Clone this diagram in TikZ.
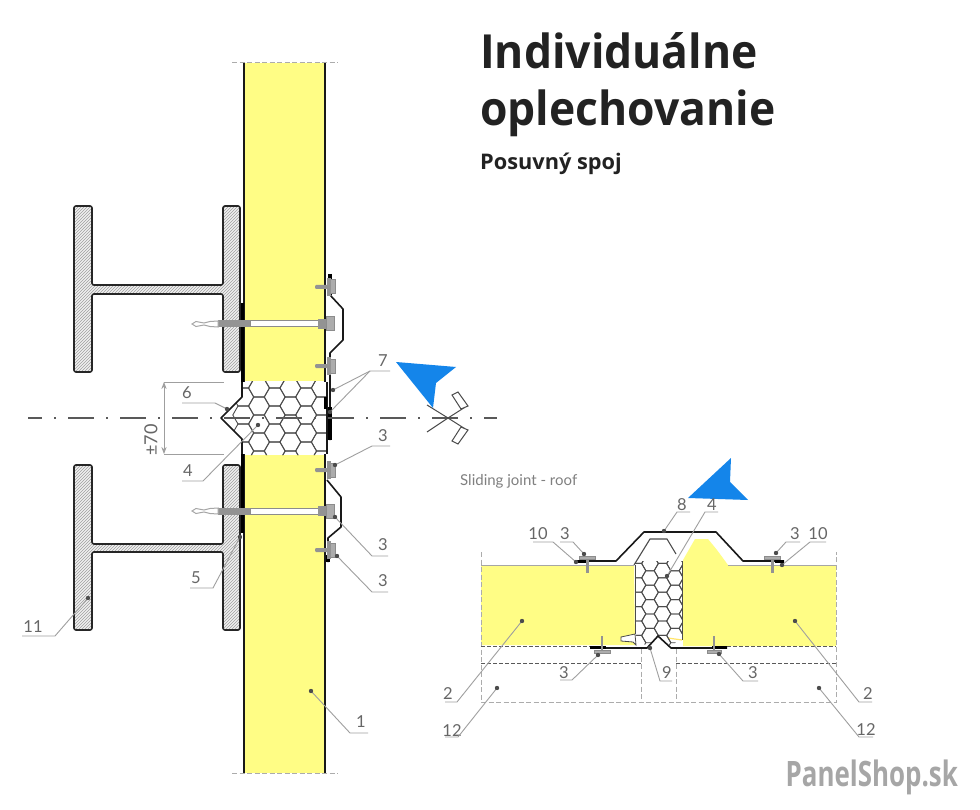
\documentclass[tikz,border=0pt]{standalone}
\usepackage{fontspec}
\setmainfont{Open Sans}
\newfontfamily\labelfont{Lato}
\usetikzlibrary{positioning,calc,patterns,arrows.meta}
\definecolor{panelyellow}{HTML}{FFFD85}
\definecolor{arrowblue}{HTML}{1485EA}
\definecolor{titleink}{HTML}{222222}
\newcommand{\hexcell}[3]{\draw[hexline] (#1,#2) ++(0:#3) -- ++(120:#3) -- ++(180:#3) -- ++(240:#3) -- ++(300:#3) -- ++(0:#3) -- cycle;}
\begin{document}
\begin{tikzpicture}[
	x=1pt, y=-1pt,
	foam/.style={fill=panelyellow},
	sheet/.style={draw=black!90, line width=1.6pt, line join=round},
	bar/.style={draw=black, line width=3.6pt},
	hexline/.style={draw=black!70, line width=.9pt},
	ibeam/.style={draw=black!85, line width=1.6pt, rounded corners=2pt, preaction={fill=gray!12}, pattern=north east lines, pattern color=gray!75},
	boltpart/.style={fill=gray!85},
	boltnut/.style={draw=gray!90, line width=1pt, fill=gray!65},
	cutline/.style={draw=gray!65, line width=1pt, dash pattern=on 5pt off 2.5pt},
	hiddenline/.style={draw=black!65, line width=.9pt, dash pattern=on 4pt off 2pt},
	axisline/.style={draw=black!65, line width=1.1pt, dash pattern=on 26pt off 12pt on 2pt off 12pt, dash phase=12pt},
	leader/.style={draw=gray!75, line width=.9pt},
	leaderdot/.style={fill=gray!60!black},
	lbl/.style={font=\labelfont\fontsize{16.5}{16.5}\selectfont, text=black!60, inner sep=0pt},
	title/.style={font=\fontsize{47}{47}\selectfont\bfseries, text=titleink, anchor=base west, inner sep=0pt, xscale=.945, transform shape},
	pointer/.style={fill=arrowblue}
]
\useasboundingbox (0,0) rectangle (980,810);
\fill[white] (0,0) rectangle (980,810);

% headings
\node[title] (headline1) at (480,69) {Individuálne};
\node[title] (headline2) at (480,126) {oplechovanie};
\node[title, xscale=1.07, font=\fontsize{21.5}{22}\selectfont\bfseries] (subhead) at (480,170) {Posuvný spoj};
\node[lbl, font=\labelfont\fontsize{15}{15}\selectfont, text=black!50, anchor=west] (rooftitle) at (460,481) {Sliding joint - roof};
\node[font=\fontsize{35}{35}\selectfont\bfseries, text=gray!70, anchor=base east, inner sep=0pt, xscale=.74, transform shape] (logo) at (958,786) {PanelShop.sk};

% wall panel
\fill[foam] (245,63) rectangle (324,381);
\fill[foam] (245,455) rectangle (324,773);
\draw[cutline] (232,63) -- (338,63);
\draw[cutline] (232,773) -- (338,773);

% steel columns
\foreach \top/\weba/\webb/\bot in {206/285/294/372, 465/544/552/630}
	\draw[ibeam] (74,\top) -- (92,\top) -- (92,\weba) -- (223,\weba) -- (223,\top) -- (240,\top) -- (240,\bot) -- (223,\bot) -- (223,\webb) -- (92,\webb) -- (92,\bot) -- (74,\bot) -- cycle;

% core of the wall panel
\begin{scope}
	\clip (242,381) -- (327,381) -- (327,455) -- (242,455) -- (242,439) -- (221,418) -- (242,397) -- cycle;
	\foreach \x in {243.3,274.7,306.1,337.5}
		\foreach \y in {379,397,415,433,451} {\hexcell{\x}{\y}{10.5}}
	\foreach \x in {259,290.4,321.8}
		\foreach \y in {388,406,424,442,460} {\hexcell{\x}{\y}{10.5}}
\end{scope}

% panel faces
\draw[sheet] (244,63) -- (244,382);
\draw[sheet] (244,454) -- (244,773);
\draw[sheet] (325,63) -- (325,382);
\draw[sheet] (325,454) -- (325,773);
\draw[sheet] (242,382) -- (242,397) -- (221,418) -- (242,439) -- (242,454);
\draw[sheet, line width=1.1pt] (327,382) -- (327,454);
\draw[bar] (242.5,303) -- (242.5,382);
\draw[bar] (242.5,454) -- (242.5,533);

% flashing on the outer face
\draw[sheet] (330,295) -- (343,309) -- (343,340) -- (330,353) -- (330,440);
\draw[bar] (330,274) -- (330,295);
\draw[bar] (330,407) -- (330,440);
\fill[black] (324,397) rectangle (327,409);
\draw[sheet] (327,480) -- (341,497) -- (341,527) -- (328,538) -- (328,562);
\draw[bar] (328,555) -- (328,562);

% fasteners
\foreach \y in {287,366,470,550} {
	\fill[boltpart, rounded corners=1pt] (315,\y-2) rectangle (331,\y+2);
	\draw[boltnut] (329,\y-7) rectangle (335,\y+7);
	\fill[boltpart] (327,\y-9) rectangle (331,\y+9);
}
\foreach \y in {324,511} {
	\draw[boltnut, fill=white] (250,\y-3) rectangle (318,\y+3);
	\fill[boltpart] (218,\y-3.5) rectangle (250,\y+3.5);
	\draw[gray!70, line width=1pt, fill=white] (192,\y) -- (196,\y-2.5) -- (204,\y-1) -- (210,\y-2.5) -- (218,\y-3) -- (218,\y+3) -- (210,\y+2.5) -- (204,\y+1) -- (196,\y+2.5) -- cycle;
	\fill[boltpart] (318,\y-5) rectangle (328,\y+5);
	\draw[boltnut] (326,\y-7) rectangle (334,\y+7);
}

% axis and section mark
\coordinate (axisstart) at (28,418);
\coordinate (axisend) at (497,418);
\coordinate (axiscross) at (448,418);
\draw[axisline] (axisstart) -- (axisend);
\coordinate (finup) at (427,405);
\coordinate (findown) at (427,432);
\coordinate (tailup) at (464.5,407.5);
\coordinate (taildown) at (464.5,428.5);
\draw[black!70, line width=1pt] (finup) -- (axiscross) -- (tailup);
\draw[black!70, line width=1pt] (findown) -- (axiscross) -- (taildown);
\draw[black!70, line width=1pt, fill=white] (452,395) -- (458,392) -- (468,406) -- (461,409) -- cycle;
\draw[black!70, line width=1pt, fill=white] (452,441) -- (458,444) -- (468,430) -- (461,427) -- cycle;

% dimension
\coordinate (dimtop) at (164,382);
\coordinate (dimbot) at (164,454);
\coordinate (dimtopend) at (224,382);
\coordinate (dimbotend) at (224,454);
\draw[leader] (dimtop) -- (dimtopend);
\draw[leader] (dimbot) -- (dimbotend);
\draw[leader, Stealth-Stealth] (dimtop) -- (dimbot);
\node[lbl, rotate=90, font=\labelfont\fontsize{18}{18}\selectfont] (dimlabel) at (151,440) {±70};

% blue pointers
\fill[pointer] (396,362) -- (456,367) -- (436,383) -- (433,408) -- cycle;
\fill[pointer] (731,458) -- (730,482) -- (748,500) -- (688,498) -- cycle;

% roof panels
\fill[foam] (481,565) -- (634,565) -- (635,645) -- (481,645) -- cycle;
\fill[foam] (683,560) -- (695,539) -- (708,539) -- (717,550) -- (728,565) -- (836,565) -- (836,646) -- (680,646) -- (683,640) -- cycle;
\draw[draw=gray!70, line width=.8pt] (481,565) -- (634,565);
\draw[draw=gray!70, line width=.8pt] (728,565) -- (836,565);
\fill[white] (670,640) -- (683,640) -- (683,647) -- (670,647) -- cycle;
\draw[panelyellow!80!orange, line width=1.2pt] (668,638) -- (682,640);

% roof core
\begin{scope}
	\clip (635,561) -- (682,561) -- (682,636) -- (671,647) -- (658,636) -- (647,647) -- (635,634) -- cycle;
	\foreach \x in {637.5,662.5,687.5}
		\foreach \y in {556.2,570.6,585,599.4,613.8,628.2,642.6} {\hexcell{\x}{\y}{8.3}}
	\foreach \x in {650,675}
		\foreach \y in {563.6,578,592.4,606.8,621.2,635.6} {\hexcell{\x}{\y}{8.3}}
\end{scope}
\draw[hexline] (635,565) -- (635,634);
\fill[white, draw=black!70, line width=.8pt] (621,637) -- (635,634) -- (636,645) -- (633,642) -- (621,641) -- cycle;
\draw[hexline] (682.5,561) -- (682.5,640);

% hidden lines below the roof panels
\draw[cutline] (481,552) -- (481,702) -- (836,702) -- (836,552);
\draw[cutline] (641,649) -- (641,702);
\draw[cutline] (676,649) -- (676,702);
\draw[hiddenline] (481,646) -- (590,646);
\draw[hiddenline] (727,646) -- (836,646);
\draw[hiddenline] (481,663) -- (641,663);
\draw[hiddenline] (676,663) -- (836,663);

% roof sheets
\draw[sheet] (576,561) -- (616,561) -- (644,532) -- (716,532) -- (743,561) -- (784,561);
\draw[hexline, line width=1.1pt] (634,565) -- (650,539) -- (667,539) -- (676,554);
\draw[sheet] (590,648) -- (647,648) -- (658,636) -- (671,648) -- (727,648);
\draw[bar, line width=3pt] (576,561.5) -- (586,561.5);
\draw[bar, line width=3pt] (775,561.5) -- (784,561.5);
\draw[bar, line width=3pt] (590,647.5) -- (606,647.5);
\draw[bar, line width=3pt] (712,647.5) -- (727,647.5);

% roof fasteners
\foreach \x/\ya/\yb/\yc in {587/556/558/573, 772/556/558/573} {
	\fill[boltpart] (\x-1.5,\yb) rectangle (\x+1.5,\yc);
	\draw[boltnut] (\x-8,\ya) rectangle (\x+8,\ya+3);
}
\foreach \x/\w in {602/8, 714/7} {
	\fill[boltpart] (\x-1.2,636) rectangle (\x+1.2,653);
	\draw[boltnut] (\x-\w,650) rectangle (\x+\w,653);
}

% leaders: name/text/dot x/dot y/knee x/knee y/end x/text x/text y
\foreach \nm/\txt/\dx/\dy/\kx/\ky/\ex/\tx/\ty in {
	one/1/311/691/350/733/368/361/722,
	sevena/7/333/390/370/371/390/383/361,
	threea/3/335/465/372/446/390/383/436,
	threeb/3/335/517/372/556/388/383/545,
	threec/3/337/556/372/592/388/383/581,
	six/6/227/409/215/403/182/187/393,
	four/4/258/425/203/481/182/188/471,
	five/5/240/537/213/588/190/196/578,
	eleven/11/88/598/55/636/22/33/627,
	tena/10/576/562/553/542/533/538/534,
	threed/3/584/554/573/542/560/565/534,
	eight/8/664/531/677/512/690/682/505,
	fourb/4/667/576/705/512/718/712/505,
	threee/3/776/553/786/542/800/795/534,
	tenb/10/782/565/810/542/826/818/534,
	twoa/2/795/621/859/702/872/868/694,
	twelvea/12/819/688/859/737/873/866/730,
	threef/3/719/654/743/681/758/753/673,
	nine/9/650/648/660/681/672/667/673,
	threeg/3/598/655/572/680/560/564/673,
	twob/2/522/621/457/702/445/448/694,
	twelveb/12/497/688/458/737/445/452/731}
{
	\coordinate (dot\nm) at (\dx,\dy);
	\coordinate (knee\nm) at (\kx,\ky);
	\coordinate (end\nm) at (\ex,\ky);
	\node[lbl] (lab\nm) at (\tx,\ty) {\txt};
	\draw[leader] (dot\nm) -- (knee\nm) -- (end\nm);
	\fill[leaderdot] (dot\nm) circle (2.2);
}
\coordinate (dotsevenb) at (330,412);
\draw[leader] (dotsevenb) -- (kneesevena);
\fill[leaderdot] (dotsevenb) circle (2.2);
\end{tikzpicture}
\end{document}
